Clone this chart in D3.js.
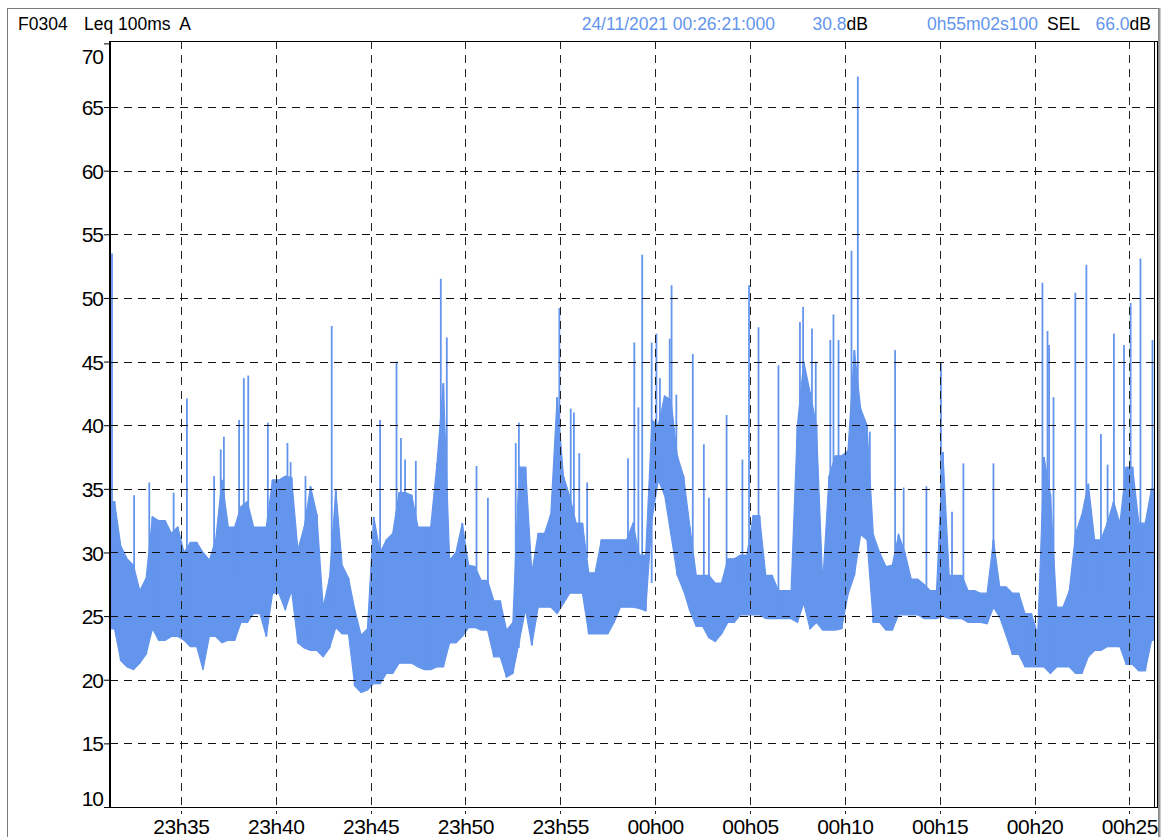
<!DOCTYPE html>
<html>
<head>
<meta charset="utf-8">
<script src="https://cdn.jsdelivr.net/npm/d3@7"></script>
<style>
  html, body { margin: 0; padding: 0; background: #fff; }
  svg { display: block; }
  text { font-family: "Liberation Sans", Arial, Helvetica, sans-serif; }
</style>
</head>
<body>
<svg id="chart" width="1167" height="837"></svg>
<script>
// ---------- data ----------
const startStamp = "23:31:18.9";
const endStamp = "00:26:21.0";
const binStart = "23:31:20";
const binStepSeconds = 20;

// lower edge of the noise band, one value per 20 s bin (dB)
const bandLow = [
  24,21.5,21,20.8,21.3, 22,24,23.1,23.1,23.4,
  23.4,23.1,22.6,22.6,20.8, 23.4,23.4,22.9,23.1,23.1,
  24.5,24.5,25.2,25.2,23.4, 26.8,26.8,25.5,27,22.9,
  22.5,22.3,22.3,21.8,22.5, 24.1,23.6,23.6,19.5,19,
  19.2,19.7,19.7,20.5,20.5, 21.3,21.3,21.3,21,20.8,
  20.8,21,21,22.9,22.9, 23.4,24.1,24.1,23.9,23.9,
  21.8,21.8,20.2,20.5,23, 25.5,22.7,25.7,25.7,25.7,
  25.2,26,26.8,26.8,26.8, 23.6,23.6,23.6,23.6,24.5,
  25.7,25.7,25.7,25.6,25.4, 32.6,35.7,34.5,31.4,28.2,
  27,25.4,24.2,24.2,23.3, 23,23.6,24.5,24.5,25.1,
  25.1,25.1,25.1,24.8,24.8, 24.8,24.8,24.8,24.5,26,
  24,24.5,23.9,23.9,23.9, 24,26.7,28.2,31.4,31,
  24.5,24.5,23.9,23.9,25.1, 25.1,25.1,25.1,24.8,24.8,
  24.8,25,24.8,24.8,24.8, 24.5,24.5,24.5,24.4,25.7,
  24.9,23.5,22,22,21, 21,21,21,20.5,21,
  21,21,20.5,20.5,21.8, 22.3,22.3,22.6,22.6,22.6,
  21.2,21.2,20.7,20.7,23.1
];
// upper edge of the noise band, one value per 20 s bin (dB)
const bandHigh = [
  34,30.5,29.5,29,27, 28,32.8,32.5,32.5,31.5,
  32,30,30.8,30.8,30, 29.4,31,35.7,32,32,
  33.6,34,32,32,32, 35.7,35.7,36,35.9,30.2,
  32,35.2,33,25.7,28, 34.9,29,28,25.5,23.5,
  24,32.8,30,31,31.5, 34.7,34.7,34.5,32,32,
  32,37,43.3,29.4,30, 32.3,29,28.9,27.8,27.8,
  26.2,26.2,23.9,24.5,36.7, 36.7,28.4,31.5,31.5,33,
  42.2,36,34.4,32.3,32.3, 28.4,28.4,31,31,31,
  31,31,32.3,29.8,29.8, 40.4,40,42.3,42,37.6,
  36,32,28.2,28.2,28.2, 27.6,27.6,29.5,29.5,29.8,
  29.8,32.9,32.9,28.2,28.2, 27,27,27,40,45,
  42.6,40,27.6,36,37.6, 37.6,38,45.9,41.3,40,
  31.4,30,28.9,29,31.4, 30,27.9,27.9,27.5,27,
  27,37.9,28.2,28.2,28.2, 27,27,26.8,26.8,31,
  27.3,27.3,26.8,26.8,25.2, 25.2,23.6,37.5,34.6,25.7,
  25.7,27,31.5,33,35.4, 31,31,32.3,34,32.3,
  36.7,36.7,32.3,32.3,35
];
// isolated peaks
const spikeTimes = [
  "23:31:22","23:32:32","23:33:20","23:34:37","23:35:19","23:36:45","23:37:06","23:37:16",
  "23:38:04","23:38:19","23:38:33","23:39:35","23:40:37","23:40:47","23:41:34","23:42:57",
  "23:45:30","23:46:22","23:46:36","23:46:49","23:47:23","23:48:42","23:49:01","23:50:35",
  "23:51:11","23:52:39","23:52:49","23:54:57","23:55:33","23:55:43","23:56:00","23:56:25",
  "23:58:34","23:58:54","23:59:07","23:59:19","23:59:49","00:00:04","00:00:15","00:00:46",
  "00:00:52","00:01:07","00:01:59","00:02:34","00:02:50","00:03:46","00:04:36","00:04:57",
  "00:05:27","00:06:30","00:07:38","00:07:48","00:08:16","00:08:28","00:09:14","00:09:24",
  "00:09:40","00:10:21","00:10:41","00:11:19","00:12:39","00:13:06","00:14:18","00:15:04",
  "00:15:39","00:16:15","00:17:50","00:20:25","00:20:41","00:20:46","00:21:00","00:22:09",
  "00:22:44","00:23:30","00:23:51","00:24:11","00:24:43","00:25:04","00:25:35","00:26:13"
];
const spikeLevels = [
  53.5,34.5,35.5,34.7,42.1,36,38.1,39.1,
  40.4,43.7,43.9,40.2,38.6,37.1,36,47.8,
  40.4,45,39,37.3,37.2,51.5,46.9,36.8,
  34.3,38.6,40.2,49.2,41.3,41,37.8,35.5,
  37.4,46.5,41.4,53.4,46.5,47.2,43.7,46.8,
  51,42.4,45.6,38.5,34.3,40.8,37.3,51,
  47.7,44.7,48.1,49.3,47.6,45,46.7,48.7,
  46.7,53.7,67.4,39.5,45.9,35.1,35.2,44.9,
  33.2,37,37,51.2,47.4,46.3,42.2,50.4,
  52.6,39.3,36.9,47.2,46.3,49.6,53.1,46.7
];
const yTicks = [10,15,20,25,30,35,40,45,50,55,60,65,70];
const headerLeft = ["F0304", "Leq 100ms  A"];
const headerDate = "24/11/2021 00:26:21:000";
const headerLevel = "30.8";
const headerDuration = "0h55m02s100";
const headerSelLabel = "SEL";
const headerSel = "66.0";
const unit = "dB";

// ---------- helpers ----------
function toDate(s) {
  const [h, m, sec] = s.split(":").map(Number);
  const day = h >= 12 ? 23 : 24;
  const whole = Math.floor(sec);
  return new Date(2021, 10, day, h, m, whole, Math.round((sec - whole) * 1000));
}
const t0 = toDate(startStamp), t1 = toDate(endStamp);
const b0 = toDate(binStart);
const half = binStepSeconds * 500;
const bins = bandLow.map((lo, i) => ({
  t: new Date(b0.getTime() + i * binStepSeconds * 1000 + half), lo, hi: bandHigh[i]
}));
const bandPts = [{ t: t0, lo: bins[0].lo, hi: bins[0].hi }, ...bins,
  { t: t1, lo: bins[bins.length - 1].lo, hi: bins[bins.length - 1].hi }];
const spikes = spikeTimes.map((s, i) => ({ t: toDate(s), v: spikeLevels[i] }));

// ---------- layout ----------
const svg = d3.select("#chart");
const plotL = 109, plotR = 1154, plotT = 41, plotB = 807;
const x = d3.scaleTime().domain([t0, t1]).range([111, 1155]);
const y = d3.scaleLinear().domain([10, 70]).range([807, 43.4]);
const blue = "#6495ED";

// outer frame
svg.append("rect").attr("x", 7.5).attr("y", 8.5).attr("width", 1151).attr("height", 840)
  .attr("fill", "none").attr("stroke", "#7a7a7a").attr("stroke-width", 1);
svg.append("line").attr("x1", 1159.5).attr("x2", 1159.5).attr("y1", 8).attr("y2", 837)
  .attr("stroke", "#9a9a9a").attr("stroke-width", 2);

// header
const hdr = svg.append("g").attr("font-size", 17.5);
hdr.append("text").attr("x", 18).attr("y", 30).attr("fill", "#000").text(headerLeft[0]);
hdr.append("text").attr("x", 84).attr("y", 30).attr("fill", "#000")
  .style("white-space", "pre").text(headerLeft[1]);
hdr.append("text").attr("x", 775).attr("y", 30).attr("text-anchor", "end").attr("fill", blue).text(headerDate);
const lvl = hdr.append("text").attr("x", 868).attr("y", 30).attr("text-anchor", "end");
lvl.append("tspan").attr("fill", blue).text(headerLevel);
lvl.append("tspan").attr("fill", "#000").text(unit);
hdr.append("text").attr("x", 1038).attr("y", 30).attr("text-anchor", "end").attr("fill", blue).text(headerDuration);
hdr.append("text").attr("x", 1047).attr("y", 30).attr("fill", "#000").text(headerSelLabel);
const sel = hdr.append("text").attr("x", 1151).attr("y", 30).attr("text-anchor", "end");
sel.append("tspan").attr("fill", blue).text(headerSel);
sel.append("tspan").attr("fill", "#000").text(unit);

// clip
svg.append("clipPath").attr("id", "plotclip").append("rect")
  .attr("x", plotL + 1).attr("y", plotT).attr("width", plotR - plotL - 1).attr("height", plotB - plotT);

// data
const dataG = svg.append("g").attr("clip-path", "url(#plotclip)");
const area = d3.area()
  .x(d => x(d.t)).y0(d => y(d.lo)).y1(d => y(d.hi))
  .curve(d3.curveLinear);
dataG.append("path").datum(bandPts).attr("d", area).attr("fill", blue).attr("stroke", blue).attr("stroke-width", 1.2);

// per-bin strokes reaching the band edges (texture)
dataG.selectAll("line.bin").data(bins).join("line")
  .attr("class", "bin")
  .attr("x1", d => x(d.t)).attr("x2", d => x(d.t))
  .attr("y1", d => y(d.lo)).attr("y2", d => y(d.hi))
  .attr("stroke", blue).attr("stroke-width", 2);

const bisect = d3.bisector(d => d.t).right;
dataG.selectAll("line.spike").data(spikes).join("line")
  .attr("class", "spike")
  .attr("x1", d => x(d.t)).attr("x2", d => x(d.t))
  .attr("y1", d => { const b = bandPts[Math.max(0, bisect(bandPts, d.t) - 1)]; return y((b.lo + b.hi) / 2); })
  .attr("y2", d => y(d.v))
  .attr("stroke", blue).attr("stroke-width", 1.8);

// grid (over data)
const grid = svg.append("g");
grid.selectAll("line.h").data(yTicks.filter(v => v > 10 && v < 70)).join("line")
  .attr("x1", plotL + 1).attr("x2", plotR).attr("y1", d => Math.round(y(d)) + 0.5).attr("y2", d => Math.round(y(d)) + 0.5)
  .attr("stroke", "#111").attr("stroke-width", 1).attr("stroke-dasharray", "8,6");
const xTicks = x.ticks(d3.timeMinute.every(5));
grid.selectAll("line.v").data(xTicks).join("line")
  .attr("x1", d => Math.round(x(d)) + 0.5).attr("x2", d => Math.round(x(d)) + 0.5)
  .attr("y1", plotT).attr("y2", plotB + 7)
  .attr("stroke", "#222").attr("stroke-width", 1).attr("stroke-dasharray", "8,6");

// plot frame
svg.append("line").attr("x1", plotL).attr("x2", 1157).attr("y1", plotT + 0.5).attr("y2", plotT + 0.5).attr("stroke", "#000");
svg.append("line").attr("x1", plotL).attr("x2", 1157).attr("y1", plotB + 0.5).attr("y2", plotB + 0.5).attr("stroke", "#000");
svg.append("line").attr("x1", plotR + 0.5).attr("x2", plotR + 0.5).attr("y1", plotT).attr("y2", plotB).attr("stroke", "#000");
svg.append("line").attr("x1", 1157.5).attr("x2", 1157.5).attr("y1", plotT).attr("y2", plotB + 1).attr("stroke", "#000");

// y axis
const yAxis = d3.axisLeft(y).tickValues(yTicks).tickSize(6).tickFormat(d3.format("d"));
const yG = svg.append("g").attr("transform", `translate(${plotL + 1},0)`).call(yAxis);
yG.select(".domain").attr("stroke", "#000").attr("stroke-width", 2).attr("d", `M0,${plotT}V${plotB + 1}`);
yG.selectAll(".tick line").attr("stroke", "#000");
yG.selectAll(".tick text")
  .attr("font-family", "'Liberation Sans', Arial, sans-serif")
  .attr("font-size", 21).attr("fill", "#000").attr("letter-spacing", -1)
  .attr("x", -7).attr("dy", d => d === 70 ? "0.95em" : d === 10 ? "-0.05em" : "0.36em");

// x axis labels
const xAxis = d3.axisBottom(x).tickValues(xTicks).tickSize(0).tickFormat(d3.timeFormat("%Hh%M"));
const xG = svg.append("g").attr("transform", `translate(0,${plotB})`).call(xAxis);
xG.select(".domain").remove();
xG.selectAll(".tick text")
  .attr("font-family", "'Liberation Sans', Arial, sans-serif")
  .attr("font-size", 21).attr("fill", "#000").attr("letter-spacing", -0.4)
  .attr("y", 12).attr("dy", "0.71em");
</script>
</body>
</html>
